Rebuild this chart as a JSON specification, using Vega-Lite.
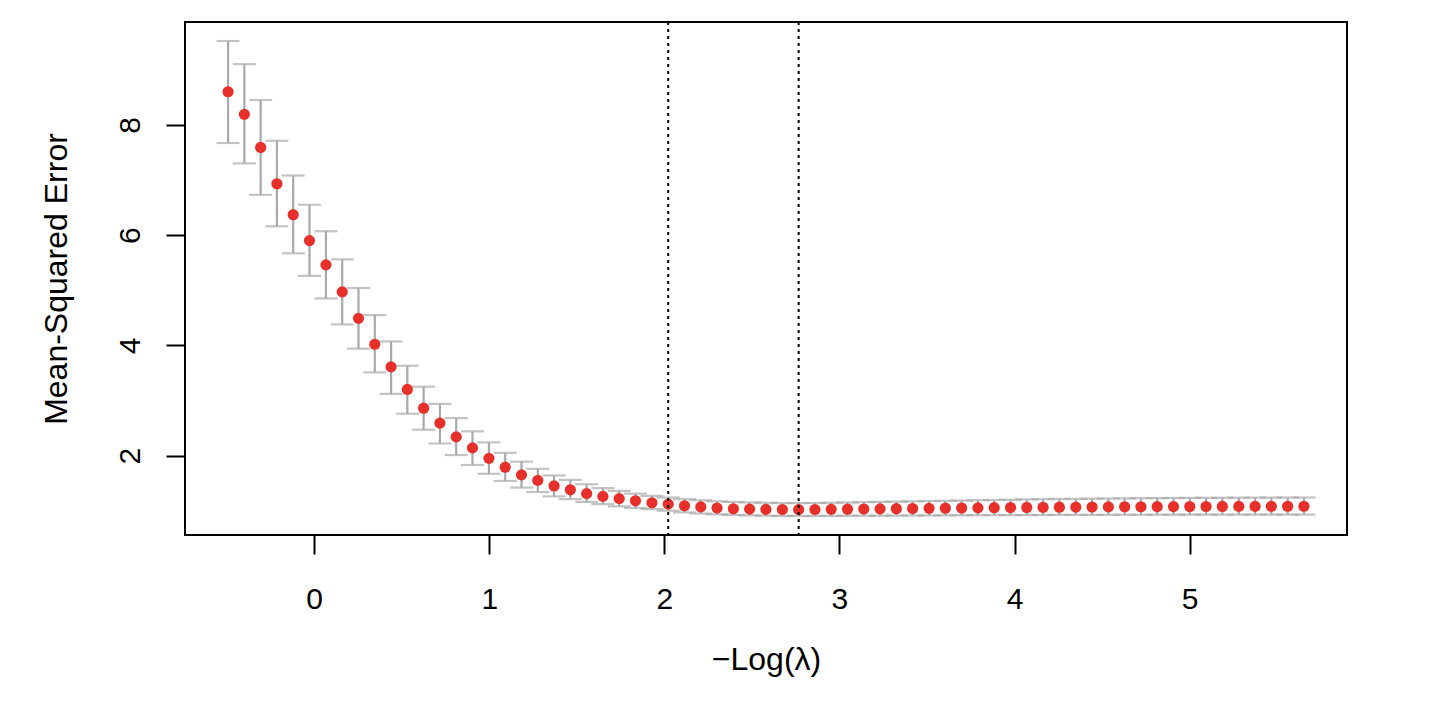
{
  "$schema": "https://vega.github.io/schema/vega-lite/v6.json",
  "width": 1162,
  "height": 513,
  "autosize": {"type": "none"},
  "padding": {"left": 185, "top": 22, "right": 101, "bottom": 176},
  "background": "white",
  "datasets": {
    "cv": [
      {"x": -0.492, "m": 8.60, "lo": 7.67, "up": 9.52},
      {"x": -0.399, "m": 8.19, "lo": 7.30, "up": 9.10},
      {"x": -0.306, "m": 7.59, "lo": 6.73, "up": 8.45},
      {"x": -0.213, "m": 6.93, "lo": 6.16, "up": 7.71},
      {"x": -0.120, "m": 6.37, "lo": 5.67, "up": 7.08},
      {"x": -0.027, "m": 5.90, "lo": 5.26, "up": 6.55},
      {"x": 0.067, "m": 5.46, "lo": 4.85, "up": 6.07},
      {"x": 0.160, "m": 4.97, "lo": 4.38, "up": 5.56},
      {"x": 0.253, "m": 4.49, "lo": 3.94, "up": 5.04},
      {"x": 0.346, "m": 4.02, "lo": 3.51, "up": 4.55},
      {"x": 0.439, "m": 3.61, "lo": 3.12, "up": 4.07},
      {"x": 0.532, "m": 3.20, "lo": 2.76, "up": 3.63},
      {"x": 0.625, "m": 2.86, "lo": 2.47, "up": 3.25},
      {"x": 0.718, "m": 2.59, "lo": 2.22, "up": 2.94},
      {"x": 0.811, "m": 2.34, "lo": 2.01, "up": 2.68},
      {"x": 0.904, "m": 2.14, "lo": 1.83, "up": 2.44},
      {"x": 0.998, "m": 1.95, "lo": 1.67, "up": 2.24},
      {"x": 1.091, "m": 1.79, "lo": 1.54, "up": 2.05},
      {"x": 1.184, "m": 1.65, "lo": 1.42, "up": 1.89},
      {"x": 1.277, "m": 1.55, "lo": 1.34, "up": 1.76},
      {"x": 1.370, "m": 1.45, "lo": 1.26, "up": 1.64},
      {"x": 1.463, "m": 1.38, "lo": 1.21, "up": 1.56},
      {"x": 1.556, "m": 1.31, "lo": 1.16, "up": 1.48},
      {"x": 1.649, "m": 1.26, "lo": 1.12, "up": 1.41},
      {"x": 1.742, "m": 1.22, "lo": 1.08, "up": 1.36},
      {"x": 1.835, "m": 1.18, "lo": 1.05, "up": 1.31},
      {"x": 1.929, "m": 1.145, "lo": 1.03, "up": 1.27},
      {"x": 2.022, "m": 1.12, "lo": 1.00, "up": 1.24},
      {"x": 2.115, "m": 1.09, "lo": 0.97, "up": 1.21},
      {"x": 2.208, "m": 1.07, "lo": 0.95, "up": 1.19},
      {"x": 2.301, "m": 1.05, "lo": 0.935, "up": 1.17},
      {"x": 2.394, "m": 1.036, "lo": 0.925, "up": 1.16},
      {"x": 2.487, "m": 1.03, "lo": 0.915, "up": 1.15},
      {"x": 2.580, "m": 1.024, "lo": 0.91, "up": 1.145},
      {"x": 2.674, "m": 1.022, "lo": 0.905, "up": 1.14},
      {"x": 2.767, "m": 1.02, "lo": 0.905, "up": 1.14},
      {"x": 2.860, "m": 1.022, "lo": 0.905, "up": 1.14},
      {"x": 2.953, "m": 1.025, "lo": 0.907, "up": 1.145},
      {"x": 3.046, "m": 1.028, "lo": 0.908, "up": 1.15},
      {"x": 3.139, "m": 1.031, "lo": 0.91, "up": 1.155},
      {"x": 3.232, "m": 1.034, "lo": 0.91, "up": 1.16},
      {"x": 3.325, "m": 1.037, "lo": 0.912, "up": 1.165},
      {"x": 3.418, "m": 1.04, "lo": 0.913, "up": 1.17},
      {"x": 3.512, "m": 1.043, "lo": 0.915, "up": 1.175},
      {"x": 3.605, "m": 1.046, "lo": 0.916, "up": 1.18},
      {"x": 3.698, "m": 1.049, "lo": 0.918, "up": 1.185},
      {"x": 3.791, "m": 1.052, "lo": 0.919, "up": 1.19},
      {"x": 3.884, "m": 1.055, "lo": 0.92, "up": 1.195},
      {"x": 3.977, "m": 1.058, "lo": 0.921, "up": 1.20},
      {"x": 4.070, "m": 1.06, "lo": 0.922, "up": 1.205},
      {"x": 4.163, "m": 1.062, "lo": 0.923, "up": 1.21},
      {"x": 4.256, "m": 1.064, "lo": 0.924, "up": 1.213},
      {"x": 4.350, "m": 1.066, "lo": 0.925, "up": 1.216},
      {"x": 4.443, "m": 1.068, "lo": 0.926, "up": 1.219},
      {"x": 4.536, "m": 1.07, "lo": 0.926, "up": 1.222},
      {"x": 4.629, "m": 1.072, "lo": 0.927, "up": 1.225},
      {"x": 4.722, "m": 1.073, "lo": 0.927, "up": 1.227},
      {"x": 4.815, "m": 1.074, "lo": 0.928, "up": 1.229},
      {"x": 4.908, "m": 1.075, "lo": 0.928, "up": 1.231},
      {"x": 5.001, "m": 1.076, "lo": 0.929, "up": 1.233},
      {"x": 5.094, "m": 1.077, "lo": 0.929, "up": 1.235},
      {"x": 5.187, "m": 1.078, "lo": 0.929, "up": 1.236},
      {"x": 5.281, "m": 1.079, "lo": 0.93, "up": 1.237},
      {"x": 5.374, "m": 1.08, "lo": 0.93, "up": 1.238},
      {"x": 5.467, "m": 1.08, "lo": 0.93, "up": 1.239},
      {"x": 5.560, "m": 1.081, "lo": 0.93, "up": 1.24},
      {"x": 5.653, "m": 1.081, "lo": 0.93, "up": 1.24}
    ],
    "lambda": [
      {"x": 2.022, "which": "1se"},
      {"x": 2.767, "which": "min"}
    ]
  },
  "data": {"name": "cv"},
  "encoding": {
    "x": {
      "field": "x",
      "type": "quantitative",
      "scale": {"domain": [-0.738, 5.899], "nice": false, "zero": false},
      "axis": {"values": [0, 1, 2, 3, 4, 5], "title": "−Log(λ)", "titlePadding": 30, "labelPadding": 30}
    }
  },
  "layer": [
    {
      "mark": {"type": "rule", "color": "#a9a9a9", "strokeWidth": 2.2},
      "encoding": {
        "y": {
          "field": "lo",
          "type": "quantitative",
          "scale": {"domain": [0.56, 9.865], "nice": false, "zero": false},
          "axis": {"values": [2, 4, 6, 8], "title": "Mean-Squared Error", "labelAngle": -90, "labelAlign": "center", "labelBaseline": "bottom", "labelPadding": 21, "titlePadding": 42}
        },
        "y2": {"field": "up"}
      }
    },
    {
      "mark": {"type": "tick", "orient": "horizontal", "color": "#a9a9a9", "size": 23, "thickness": 2.2},
      "encoding": {"y": {"field": "lo", "type": "quantitative"}}
    },
    {
      "mark": {"type": "tick", "orient": "horizontal", "color": "#a9a9a9", "size": 23, "thickness": 2.2},
      "encoding": {"y": {"field": "up", "type": "quantitative"}}
    },
    {
      "mark": {"type": "point", "filled": true, "shape": "circle", "size": 125, "color": "#e8302a", "opacity": 1},
      "encoding": {"y": {"field": "m", "type": "quantitative"}}
    },
    {
      "data": {"name": "lambda"},
      "mark": {"type": "rule", "color": "black", "strokeWidth": 2, "strokeDash": [3, 4]},
      "encoding": {}
    }
  ],
  "config": {
    "view": {"stroke": "black", "strokeWidth": 2},
    "font": "Liberation Sans",
    "axis": {
      "grid": false,
      "domain": false,
      "ticks": true,
      "tickColor": "black",
      "tickWidth": 2,
      "tickSize": 19,
      "labelFont": "Liberation Sans",
      "labelFontSize": 30,
      "labelColor": "black",
      "titleFont": "Liberation Sans",
      "titleFontSize": 32,
      "titleFontWeight": "normal",
      "titleColor": "black"
    }
  }
}
